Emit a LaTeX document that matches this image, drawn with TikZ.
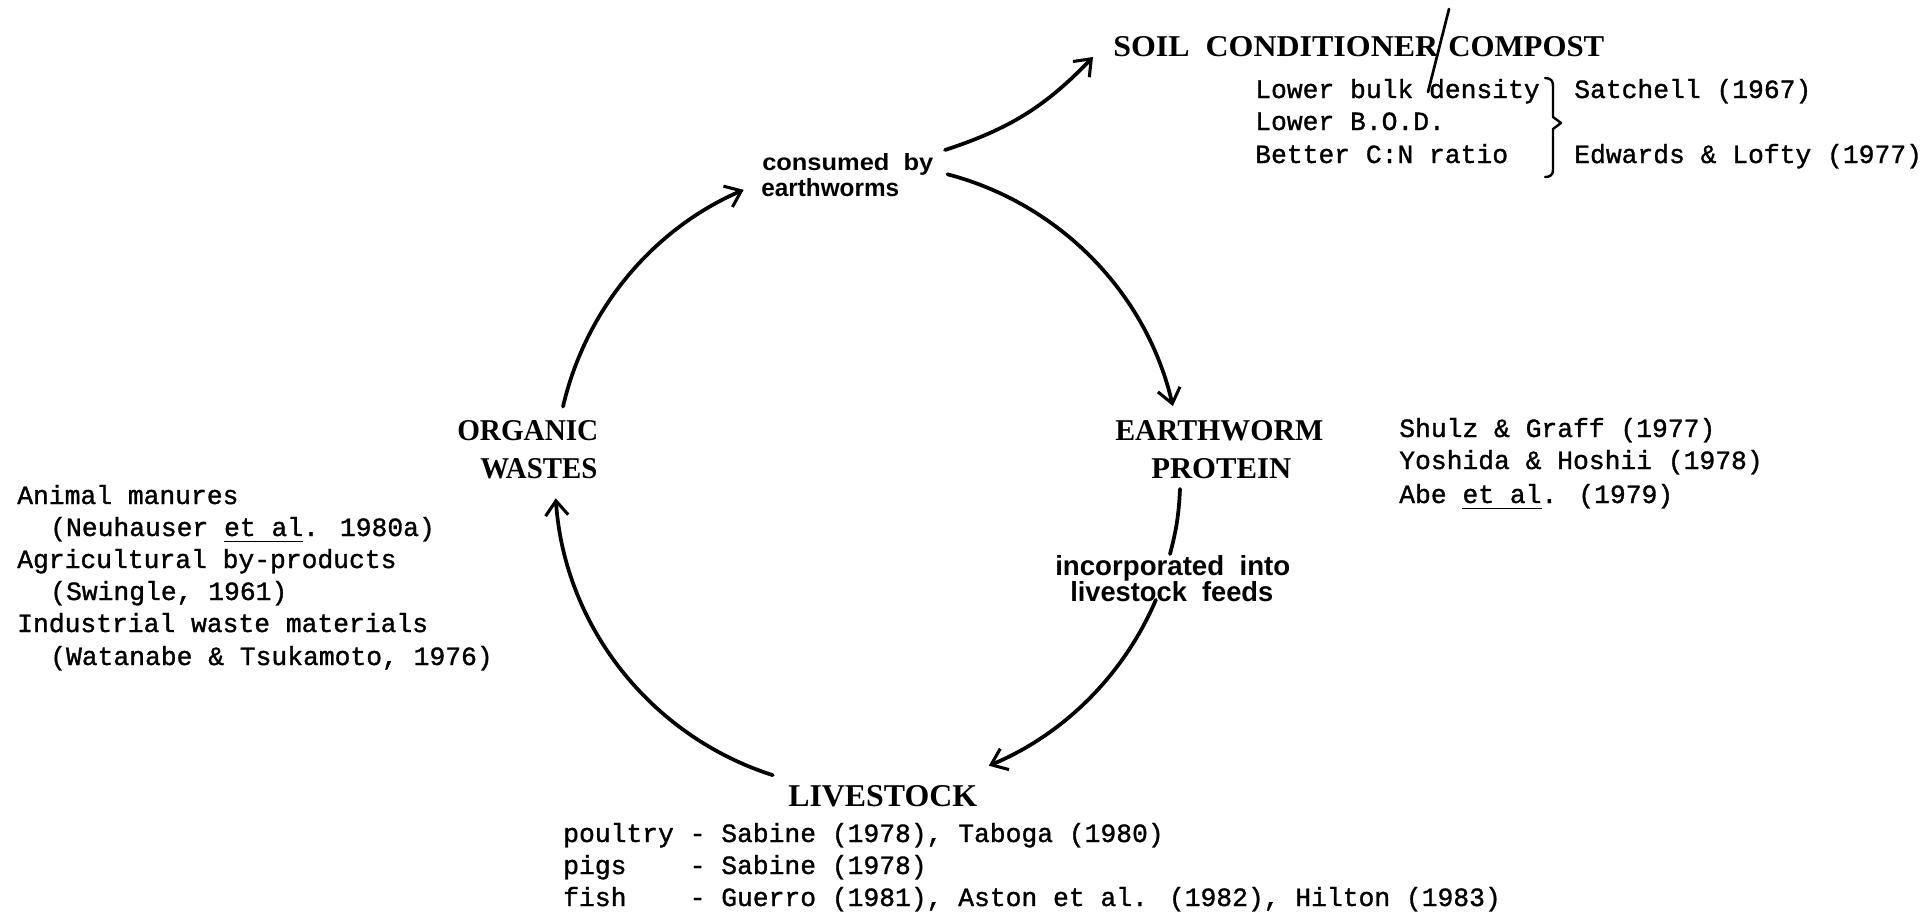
\documentclass[tikz,border=0pt]{standalone}
\usepackage{fontspec}
\usepackage{graphicx}
\setmainfont{Liberation Serif}
\newfontfamily\monof[FakeBold=1.2]{Liberation Mono}
\newfontfamily\capf{Liberation Serif}
\newfontfamily\lowf{Liberation Sans}
\usetikzlibrary{arrows.meta,calc}
\newlength\pxu \setlength\pxu{0.75pt}
\newcommand\fitbox[3]{\resizebox{#1\pxu}{#2\pxu}{#3}}
\newsavebox\etbox
\newcommand\etal{\sbox\etbox{et al}\rlap{\rule[-4.6pt]{\wd\etbox}{1.2pt}}\usebox\etbox}
\tikzset{
 monotext/.style={anchor=base west, inner sep=0pt, font=\monof\fontsize{19.75}{24}\selectfont},
 caplabel/.style={anchor=base west, inner sep=0pt, font=\capf\bfseries},
 lowlabel/.style={anchor=base west, inner sep=0pt, font=\lowf\bfseries},
 flowarrow/.style={line width=2.8pt, line cap=round, -{Straight Barb[length=11pt,width=17pt,line width=2.3pt]}},
 flowplain/.style={line width=2.8pt, line cap=round},
 bracestyle/.style={line width=1.8pt, line cap=round, line join=round},
}
\begin{document}
\begin{tikzpicture}[x=0.75pt,y=-0.75pt]
\useasboundingbox (0,0) rectangle (1928,914);

% ---- main labels
\node[caplabel] (soil) at (1113,56) {\fitbox{325}{20}{SOIL\ \ CONDITIONER}};
\node[caplabel] (compost) at (1448,56) {\fitbox{156}{20}{COMPOST}};
\coordinate (sl1) at (1449,9);
\coordinate (sl2) at (1428,92);
\draw[line width=2pt, line cap=round] (sl1) -- (sl2);

\node[caplabel] (org1) at (457,440) {\fitbox{141}{20}{ORGANIC}};
\node[caplabel] (org2) at (480,478) {\fitbox{117}{20}{WASTES}};
\node[caplabel] (ew1) at (1115,440) {\fitbox{208}{20}{EARTHWORM}};
\node[caplabel] (ew2) at (1151,478) {\fitbox{140}{20}{PROTEIN}};
\node[caplabel] (live) at (788,806) {\fitbox{189}{21}{LIVESTOCK}};

\node[lowlabel] (cons1) at (762,170) {\fitbox{171}{17}{consumed\ \ by}};
\node[lowlabel] (cons2) at (761,196) {\fitbox{138}{18}{earthworms}};
\node[lowlabel] (inc1) at (1055,575) {\fitbox{235}{20}{incorporated\ \ into}};
\node[lowlabel] (inc2) at (1070,601) {\fitbox{203}{20}{livestock\ \ feeds}};

% ---- soil conditioner notes
\node[monotext] (n1) at (1255,98) {Lower bulk density};
\node[monotext] (n2) at (1255,130) {Lower B.O.D.};
\node[monotext] (n3) at (1255,163) {Better C:N ratio};
\node[monotext] (r1) at (1574,98) {Satchell (1967)};
\node[monotext] (r2) at (1574,163) {Edwards \& Lofty (1977)};
\draw[bracestyle] (1545,78) .. controls (1551,78) and (1553,81) .. (1553,86)
  -- (1553,117) -- (1561,123) -- (1553,129) -- (1553,170)
  .. controls (1553,175) and (1550,177) .. (1545,177);

% ---- earthworm protein refs
\node[monotext] (e1) at (1399,437) {Shulz \& Graff (1977)};
\node[monotext] (e2) at (1399,469) {Yoshida \& Hoshii (1978)};
\node[monotext] (e3) at (1399,503) {Abe \etal. (1979)};

% ---- organic wastes list
\node[monotext] (w1) at (17,504) {Animal manures};
\node[monotext] (w2) at (50,536) {(Neuhauser \etal. 1980a)};
\node[monotext] (w3) at (17,568) {Agricultural by-products};
\node[monotext] (w4) at (50,600) {(Swingle, 1961)};
\node[monotext] (w5) at (17,632) {Industrial waste materials};
\node[monotext] (w6) at (50,665) {(Watanabe \& Tsukamoto, 1976)};

% ---- livestock list
\node[monotext] (l1) at (563,842) {poultry - Sabine (1978), Taboga (1980)};
\node[monotext] (l2) at (563,874) {pigs\ \ \ \ - Sabine (1978)};
\node[monotext] (l3) at (563,906) {fish\ \ \ \ - Guerro (1981), Aston et al. (1982), Hilton (1983)};

% ---- cycle arrows
\coordinate (C) at (868,477);
\coordinate (a1) at ($(C)+(193:313)$);
\coordinate (a2) at ($(C)+(284.7:313)$);
\coordinate (a3) at ($(C)+(23.1:313)$);
\coordinate (a4) at ($(C)+(107.7:313)$);
\draw[flowarrow] (a1) arc[start angle=193, end angle=246.6, radius=313];
\draw[flowarrow] (a2) arc[start angle=284.7, end angle=346.9, radius=313];
\draw[flowarrow] (a3) arc[start angle=23.1, end angle=67.3, radius=313];
\draw[flowarrow] (a4) arc[start angle=107.7, end angle=176.1, radius=313];

\coordinate (p1) at (1180,489);
\coordinate (p2) at (1170,554);
\draw[flowplain] (p1) to[bend left=6] (p2);

\coordinate (s1) at (945,150);
\coordinate (s2) at (1093,57);
\draw[flowarrow] (s1) to[bend right=14] (s2);
\end{tikzpicture}
\end{document}
